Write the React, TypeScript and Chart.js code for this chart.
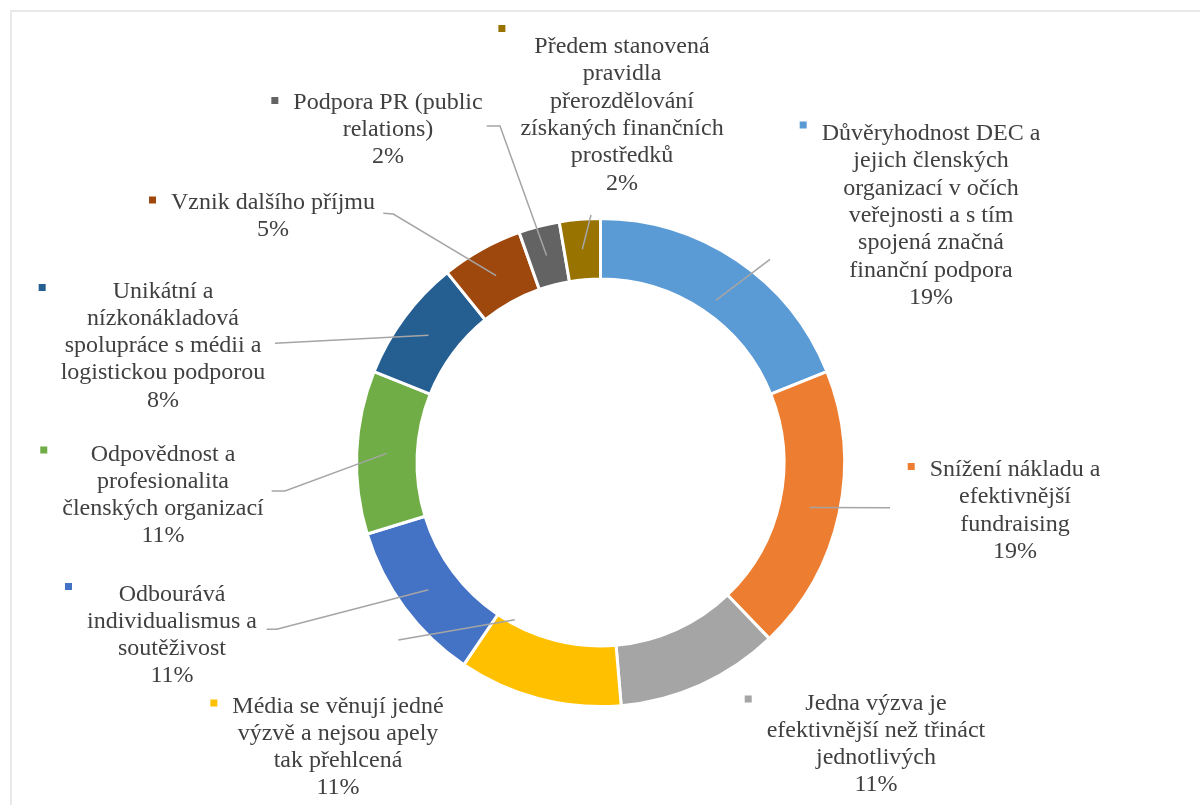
import React, { useEffect, useRef } from "react";
import { Chart, registerables } from "chart.js";

Chart.register(...registerables);

// ---- data ----
const categoryLines: string[][] = [
  ["Důvěryhodnost DEC a", "jejich členských", "organizací v očích", "veřejnosti a s tím", "spojená značná", "finanční podpora"],
  ["Snížení nákladu a", "efektivnější", "fundraising"],
  ["Jedna výzva je", "efektivnější než třináct", "jednotlivých"],
  ["Média se věnují jedné", "výzvě a nejsou apely", "tak přehlcená"],
  ["Odbourává", "individualismus a", "soutěživost"],
  ["Odpovědnost a", "profesionalita", "členských organizací"],
  ["Unikátní a", "nízkonákladová", "spolupráce s médii a", "logistickou podporou"],
  ["Vznik dalšího příjmu"],
  ["Podpora PR (public", "relations)"],
  ["Předem stanovená", "pravidla", "přerozdělování", "získaných finančních", "prostředků"],
];
const categories = categoryLines.map((l) => l.join(" "));
const counts = [7, 7, 4, 4, 4, 4, 3, 2, 1, 1];
const percentLabels = ["19%", "19%", "11%", "11%", "11%", "11%", "8%", "5%", "2%", "2%"];

// ---- styles / layout ----
const colors = ["#5B9BD5", "#ED7D31", "#A5A5A5", "#FFC000", "#4472C4", "#70AD47", "#255E91", "#9E480E", "#636363", "#997300"];

type Leader = { frac: number; r: number; pts: number[][] } | null;
const labelLayout: { cx: number; base: number; mdy: number; leader: Leader }[] = [
  { cx: 931, base: 140, mdy: -15, leader: { frac: 0.52, r: 199, pts: [[770, 259.3]] } },
  { cx: 1015, base: 476, mdy: -9.5, leader: { frac: 0.5, r: 214, pts: [[890, 507.7]] } },
  { cx: 876, base: 709.5, mdy: -10.5, leader: null },
  { cx: 338, base: 712.5, mdy: -9.5, leader: { frac: 0.86, r: 179, pts: [[398.3, 640]] } },
  { cx: 172, base: 600.5, mdy: -14, leader: { frac: 0.5, r: 214, pts: [[276.7, 629.3], [266.7, 629.3]] } },
  { cx: 163, base: 460.5, mdy: -10.5, leader: { frac: 0.5, r: 214, pts: [[285, 491], [271.7, 491]] } },
  { cx: 163, base: 297.5, mdy: -10, leader: { frac: 0.5, r: 214, pts: [[275, 343.3]] } },
  { cx: 273, base: 209, mdy: -9, leader: { frac: 0.5, r: 214, pts: [[393.3, 214], [383.3, 213.3]] } },
  { cx: 388, base: 108.5, mdy: -8, leader: { frac: 0.5, r: 214, pts: [[500, 126], [486.7, 126]] } },
  { cx: 622, base: 53, mdy: -24.5, leader: { frac: 0.5, r: 214, pts: [[591, 215]] } },
];
const LINE_H = 27.3;
const FONT = '24px "Liberation Serif", "Times New Roman", serif';

const labelPlugin = {
  id: "outerLabels",
  beforeDraw(chart: any) {
    const ctx = chart.ctx;
    ctx.save();
    ctx.fillStyle = "#ffffff";
    ctx.fillRect(0, 0, chart.width, chart.height);
    ctx.strokeStyle = "#e9e9e9";
    ctx.lineWidth = 2;
    ctx.beginPath();
    ctx.moveTo(11, chart.height);
    ctx.lineTo(11, 11);
    ctx.lineTo(chart.width, 11);
    ctx.stroke();
    ctx.restore();
  },
  afterDraw(chart: any) {
    const ctx = chart.ctx;
    const meta = chart.getDatasetMeta(0);
    ctx.save();
    // leader lines
    ctx.strokeStyle = "#a5a5a5";
    ctx.lineWidth = 1.5;
    meta.data.forEach((arc: any, i: number) => {
      const lay = labelLayout[i];
      if (!lay.leader) return;
      const p = arc.getProps(["x", "y", "startAngle", "endAngle"], true);
      const a = p.startAngle + lay.leader.frac * (p.endAngle - p.startAngle);
      const sx = p.x + lay.leader.r * Math.cos(a);
      const sy = p.y + lay.leader.r * Math.sin(a);
      ctx.beginPath();
      ctx.moveTo(sx, sy);
      lay.leader.pts.forEach((pt) => ctx.lineTo(pt[0], pt[1]));
      ctx.stroke();
    });
    // labels
    ctx.font = FONT;
    ctx.fillStyle = "#404040";
    ctx.textAlign = "center";
    ctx.textBaseline = "alphabetic";
    meta.data.forEach((_arc: any, i: number) => {
      const lay = labelLayout[i];
      const lines = [...categoryLines[i], percentLabels[i]];
      let maxW = 0;
      lines.forEach((ln) => (maxW = Math.max(maxW, ctx.measureText(ln).width)));
      lines.forEach((ln, k) => ctx.fillText(ln, lay.cx, lay.base + k * LINE_H));
      ctx.fillStyle = colors[i];
      const mx = lay.cx - maxW / 2 - 15 - 7;
      ctx.fillRect(mx, lay.base + lay.mdy - 3.5, 7, 7);
      ctx.fillStyle = "#404040";
    });
    ctx.restore();
  },
};

export default function App() {
  const ref = useRef<HTMLCanvasElement | null>(null);
  useEffect(() => {
    if (!ref.current) return;
    const chart = new Chart(ref.current, {
      type: "doughnut",
      data: {
        labels: categories,
        datasets: [
          {
            data: counts,
            backgroundColor: colors,
            borderColor: "#ffffff",
            borderWidth: 3,
          },
        ],
      },
      options: {
        responsive: false,
        animation: false,
        devicePixelRatio: 1,
        radius: 244,
        cutout: "75.2%",
        layout: { padding: { left: 358, right: 357, top: 220, bottom: 100 } },
        plugins: { legend: { display: false }, tooltip: { enabled: false } },
      } as any,
      plugins: [labelPlugin],
    });
    return () => chart.destroy();
  }, []);
  return (
    <div style={{ position: "absolute", left: 0, top: 0, width: 1200, height: 805 }}>
      <canvas ref={ref} width={1200} height={805} style={{ width: 1200, height: 805, display: "block" }} />
    </div>
  );
}
